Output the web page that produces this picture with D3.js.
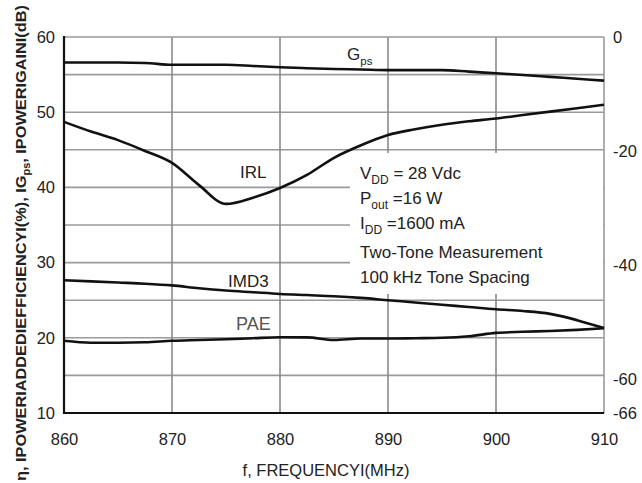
<!DOCTYPE html>
<html>
<head>
<meta charset="utf-8">
<script src="https://cdn.jsdelivr.net/npm/d3@7"></script>
<style>
  body { margin: 0; background: #fff; }
  text { font-family: 'Liberation Sans', Arial, sans-serif; fill: #222; }
</style>
</head>
<body>
<div id="graph"></div>
<script>
const width = 642;
const height = 483;

// Frequency points (MHz)
const freq = [860, 862.5, 865, 867.5, 870, 872.5, 875, 877.5, 880, 882.5, 885,
  887.5, 890, 892.5, 895, 897.5, 900, 902.5, 905, 907.5, 910];
// Gps, power gain (dB) - left axis
const gps = [56.6, 56.6, 56.6, 56.55, 56.3, 56.3, 56.3, 56.15, 55.97, 55.85, 55.75,
  55.68, 55.6, 55.6, 55.6, 55.4, 55.17, 54.95, 54.7, 54.45, 54.2];
// PAE, power added efficiency (%) - left axis
const pae = [19.6, 19.35, 19.35, 19.4, 19.6, 19.7, 19.8, 19.95, 20.07, 20.05, 19.7,
  19.9, 19.9, 19.95, 20.0, 20.2, 20.65, 20.8, 20.9, 21.05, 21.26];
// IRL, input return loss (dB) - right axis
const irl = [-14.9, -16.6, -18.1, -20.0, -22.1, -26.0, -29.3, -28.2, -26.5, -24.2, -21.2,
  -19.0, -17.2, -16.2, -15.4, -14.8, -14.3, -13.7, -13.1, -12.5, -11.9];
// IMD3, intermodulation distortion (dBc) - right axis
const imd3 = [-42.7, -42.9, -43.1, -43.3, -43.6, -44.1, -44.5, -44.8, -45.1, -45.3, -45.5,
  -45.8, -46.2, -46.6, -47.0, -47.4, -47.8, -48.1, -48.6, -49.7, -51.1];

// Tick values
const xTicks = [860, 870, 880, 890, 900, 910];
const leftTicks = [10, 20, 30, 40, 50, 60];
const leftGrid = [15, 20, 25, 30, 35, 40, 45, 50, 55];
const rightTicks = [0, -20, -40, -60, -66];

// Plot area
const pLeft = 64, pRight = 604, pTop = 37, pBottom = 413;

const svg = d3.select('#graph')
  .append('svg')
  .attr('width', width)
  .attr('height', height);

// Scales
const xScale = d3.scaleLinear().domain([860, 910]).range([pLeft, pRight]);
const yLeft = d3.scaleLinear().domain([10, 60]).range([pBottom, pTop]);
const yRight = d3.scaleLinear().domain([-66, 0]).range([pBottom, pTop]);

// Grid
svg.append('g')
  .selectAll('line')
  .data(leftGrid)
  .enter()
  .append('line')
  .attr('x1', pLeft)
  .attr('x2', pRight)
  .attr('y1', d => yLeft(d))
  .attr('y2', d => yLeft(d))
  .attr('stroke', '#9a9a9a')
  .attr('stroke-width', 1.6);
svg.append('g')
  .selectAll('line')
  .data(xTicks.slice(1, -1))
  .enter()
  .append('line')
  .attr('x1', d => xScale(d))
  .attr('x2', d => xScale(d))
  .attr('y1', pTop)
  .attr('y2', pBottom)
  .attr('stroke', '#8a8a8a')
  .attr('stroke-width', 1.6);

// White box behind the conditions text
svg.append('rect')
  .attr('x', 350)
  .attr('y', 153)
  .attr('width', pRight - 350 - 1)
  .attr('height', 141)
  .attr('fill', '#fff');

// Frame: top and right in gray, left and bottom in black
svg.append('line')
  .attr('x1', pLeft).attr('x2', pRight).attr('y1', pTop).attr('y2', pTop)
  .attr('stroke', '#9a9a9a').attr('stroke-width', 1.6);
svg.append('line')
  .attr('x1', pRight).attr('x2', pRight).attr('y1', pTop).attr('y2', pBottom)
  .attr('stroke', '#9a9a9a').attr('stroke-width', 1.6);

// Curves
const lineLeft = d3.line()
  .x((d, i) => xScale(freq[i]))
  .y(d => yLeft(d))
  .curve(d3.curveMonotoneX);
const lineRight = d3.line()
  .x((d, i) => xScale(freq[i]))
  .y(d => yRight(d))
  .curve(d3.curveMonotoneX);

[[gps, lineLeft], [pae, lineLeft], [irl, lineRight], [imd3, lineRight]].forEach(s => {
  svg.append('path')
    .datum(s[0])
    .attr('fill', 'none')
    .attr('stroke', '#111')
    .attr('stroke-width', 2.6)
    .attr('d', s[1]);
});

svg.append('line')
  .attr('x1', pLeft).attr('x2', pLeft).attr('y1', pTop - 1).attr('y2', pBottom + 1)
  .attr('stroke', '#111').attr('stroke-width', 2.2);
svg.append('line')
  .attr('x1', pLeft - 1).attr('x2', pRight).attr('y1', pBottom).attr('y2', pBottom)
  .attr('stroke', '#111').attr('stroke-width', 2.2);

// Axes (labels only, the grid carries the ticks)
const xAxis = d3.axisBottom(xScale).tickValues(xTicks).tickSize(0).tickPadding(20);
svg.append('g')
  .attr('transform', `translate(0, ${pBottom})`)
  .call(xAxis)
  .call(g => g.select('.domain').remove());

const yAxisLeft = d3.axisLeft(yLeft).tickValues(leftTicks).tickSize(0).tickPadding(9);
svg.append('g')
  .attr('transform', `translate(${pLeft}, 0)`)
  .call(yAxisLeft)
  .call(g => g.select('.domain').remove());

const yAxisRight = d3.axisRight(yRight).tickValues(rightTicks).tickSize(0).tickPadding(9)
  .tickFormat(d => d === 0 ? '0' : '-' + Math.abs(d));
svg.append('g')
  .attr('transform', `translate(${pRight}, 0)`)
  .call(yAxisRight)
  .call(g => g.select('.domain').remove());

svg.selectAll('g').attr('font-family', null).attr('font-size', null);
svg.selectAll('.tick text')
  .attr('font-size', 16.5)
  .attr('fill', '#333');

// Axis titles
svg.append('text')
  .attr('x', 326)
  .attr('y', 476)
  .attr('text-anchor', 'middle')
  .attr('font-size', 16.5)
  .text('f, FREQUENCYI(MHz)');

const yTitle = svg.append('text')
  .attr('transform', 'translate(26, 481) rotate(-90)')
  .attr('font-size', 15)
  .attr('font-weight', 'bold')
  .attr('textLength', 476)
  .attr('lengthAdjust', 'spacingAndGlyphs');
yTitle.append('tspan').text('η, IPOWERIADDEDIEFFICIENCYI(%), IG');
yTitle.append('tspan').attr('font-size', 10).attr('dy', 4).text('ps');
yTitle.append('tspan').attr('dy', -4).text(', IPOWERIGAINI(dB)');

// Curve labels
const gLabel = svg.append('text').attr('x', 347).attr('y', 60).attr('font-size', 17);
gLabel.append('tspan').text('G');
gLabel.append('tspan').attr('font-size', 11.5).attr('dy', 5).text('ps');

svg.append('text').attr('x', 240).attr('y', 178).attr('font-size', 17).text('IRL');
svg.append('text').attr('x', 228).attr('y', 287).attr('font-size', 17).text('IMD3');
svg.append('text').attr('x', 236).attr('y', 330).attr('font-size', 18)
  .style('fill', '#555').text('PAE');

// Test conditions
const cond = [
  ['V', 'DD', ' = 28 Vdc', 179],
  ['P', 'out', ' =16 W', 204],
  ['I', 'DD', '  =1600 mA', 229],
  ['Two-Tone Measurement', '', '', 258],
  ['100 kHz Tone Spacing', '', '', 283]
];
cond.forEach(c => {
  const t = svg.append('text')
    .attr('x', 360)
    .attr('y', c[3])
    .attr('font-size', 17);
  t.append('tspan').text(c[0]);
  if (c[1]) {
    t.append('tspan').attr('font-size', 12).attr('dy', 5).text(c[1]);
    t.append('tspan').attr('dy', -5).text(c[2]);
  }
});
</script>
</body>
</html>
